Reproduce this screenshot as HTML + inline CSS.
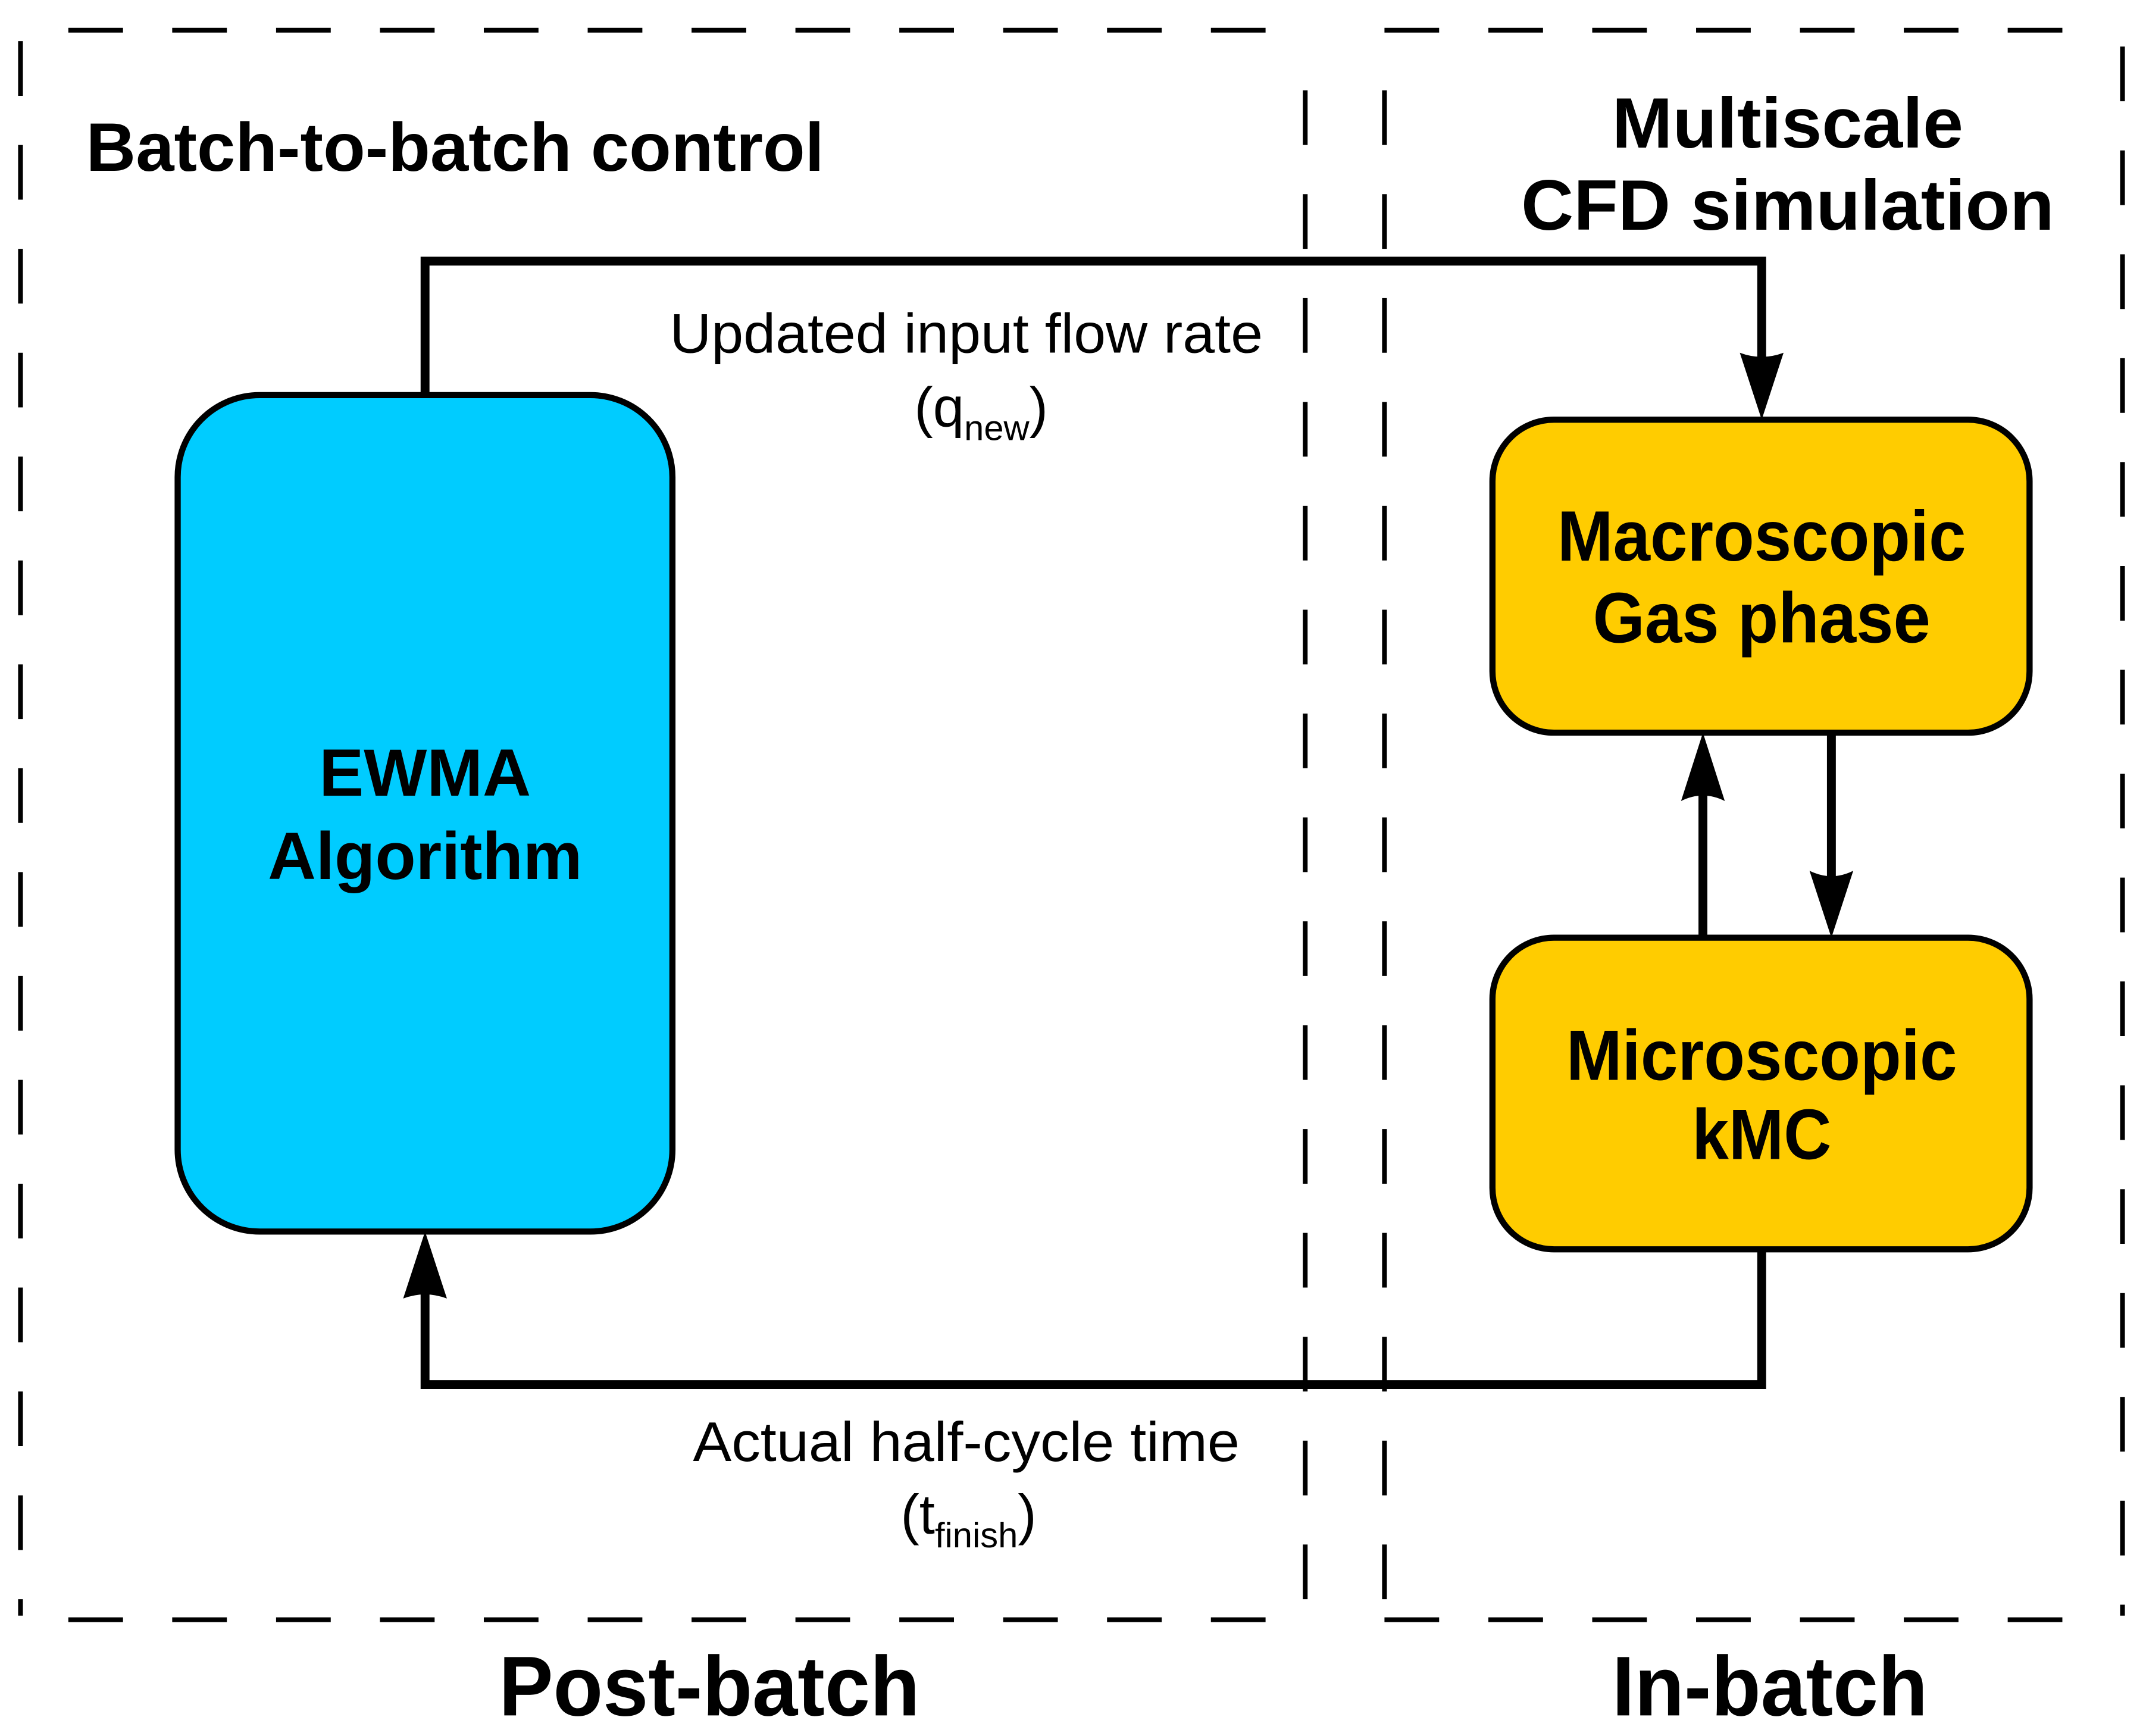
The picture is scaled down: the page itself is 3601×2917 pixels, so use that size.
<!DOCTYPE html>
<html><head><meta charset="utf-8"><style>html,body{margin:0;padding:0;background:#fff}svg{display:block}</style></head>
<body>
<svg width="3601" height="2917" viewBox="0 0 1568 1270" xmlns="http://www.w3.org/2000/svg" font-family="'Liberation Sans', Arial, sans-serif">
<rect width="1568" height="1270" fill="#fff"/>
<g stroke="#000" stroke-width="3.5" fill="none" stroke-dasharray="40 36">
<line x1="15" y1="30" x2="15" y2="1182"/>
<line x1="50" y1="22" x2="955" y2="22"/>
<line x1="50" y1="1185" x2="955" y2="1185"/>
<line x1="955" y1="66" x2="955" y2="1185"/>
<line x1="1013" y1="22" x2="1530" y2="22"/>
<line x1="1013" y1="1185" x2="1530" y2="1185"/>
<line x1="1013" y1="66" x2="1013" y2="1185"/>
<line x1="1553" y1="34" x2="1553" y2="1182"/>
</g>
<rect x="130" y="289" width="362" height="612" rx="60" ry="60" fill="#00CCFF" stroke="#000" stroke-width="4.5"/>
<rect x="1092" y="307" width="393" height="229" rx="45" ry="45" fill="#FFCC00" stroke="#000" stroke-width="4.5"/>
<rect x="1092" y="686" width="393" height="228" rx="45" ry="45" fill="#FFCC00" stroke="#000" stroke-width="4.5"/>
<g stroke="#000" stroke-width="6.5" fill="none">
<polyline points="311,289 311,191 1289,191 1289,270"/>
<polyline points="1289,914 1289,1013 311,1013 311,940"/>
<line x1="1246" y1="686" x2="1246" y2="575"/>
<line x1="1340" y1="536" x2="1340" y2="650"/>
</g>
<g fill="#000">
<path d="M1289,307 L1273,258 Q1289,264 1305,258 Z"/>
<path d="M311,901 L295,950 Q311,944 327,950 Z"/>
<path d="M1246,536 L1230,586 Q1246,578 1262,586 Z"/>
<path d="M1340,686 L1324,637 Q1340,645 1356,637 Z"/>
</g>
<g font-weight="bold" fill="#000">
<text x="63" y="125" font-size="50" textLength="540" lengthAdjust="spacingAndGlyphs">Batch-to-batch control</text>
<text x="1308" y="108" font-size="52" text-anchor="middle" textLength="257" lengthAdjust="spacingAndGlyphs">Multiscale</text>
<text x="1308" y="168" font-size="52" text-anchor="middle" textLength="390" lengthAdjust="spacingAndGlyphs">CFD simulation</text>
<text x="311" y="582" font-size="49" text-anchor="middle" textLength="155" lengthAdjust="spacingAndGlyphs">EWMA</text>
<text x="311" y="643" font-size="49" text-anchor="middle" textLength="230" lengthAdjust="spacingAndGlyphs">Algorithm</text>
<text x="1289" y="410" font-size="52" text-anchor="middle" textLength="299" lengthAdjust="spacingAndGlyphs">Macroscopic</text>
<text x="1289" y="470" font-size="52" text-anchor="middle" textLength="247" lengthAdjust="spacingAndGlyphs">Gas phase</text>
<text x="1289" y="790" font-size="52" text-anchor="middle" textLength="286" lengthAdjust="spacingAndGlyphs">Microscopic</text>
<text x="1289" y="848" font-size="52" text-anchor="middle" textLength="102" lengthAdjust="spacingAndGlyphs">kMC</text>
<text x="519" y="1255" font-size="62" text-anchor="middle" textLength="308" lengthAdjust="spacingAndGlyphs">Post-batch</text>
<text x="1295" y="1255" font-size="62" text-anchor="middle" textLength="231" lengthAdjust="spacingAndGlyphs">In-batch</text>
</g>
<g fill="#000" font-size="41">
<text x="707" y="258" text-anchor="middle" textLength="434" lengthAdjust="spacingAndGlyphs">Updated input flow rate</text>
<text x="669" y="312">(q<tspan font-size="26" dy="10">new</tspan><tspan dy="-10">)</tspan></text>
<text x="707" y="1069" text-anchor="middle" textLength="400" lengthAdjust="spacingAndGlyphs">Actual half-cycle time</text>
<text x="659" y="1122">(t<tspan font-size="26" dy="10">finish</tspan><tspan dy="-10">)</tspan></text>
</g>
</svg>
</body></html>
